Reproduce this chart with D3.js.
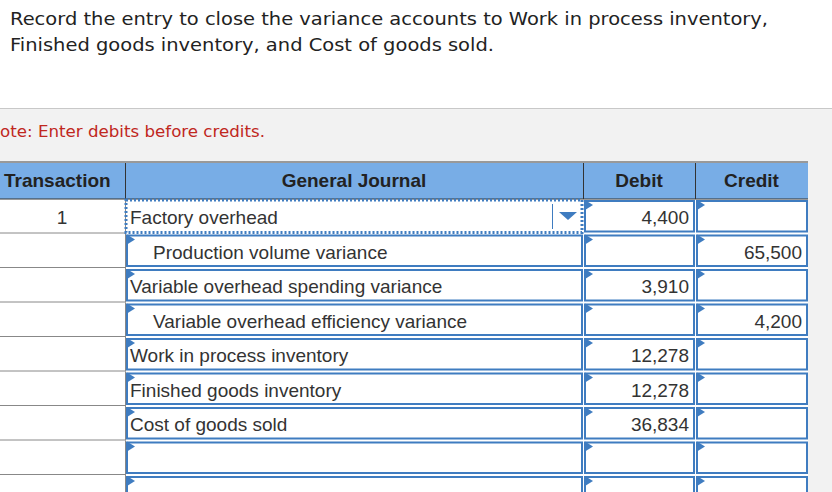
<!DOCTYPE html>
<html>
<head>
<meta charset="utf-8">
<script src="https://cdn.jsdelivr.net/npm/d3@7"></script>
<style>
  body { margin: 0; background: #fff; }
</style>
</head>
<body>
<div id="vis"></div>
<script>
// journal entry data
var accounts = [ "Factory overhead", "Production volume variance", "Variable overhead spending variance",
    "Variable overhead efficiency variance", "Work in process inventory", "Finished goods inventory",
    "Cost of goods sold", "", "" ];
var indented = [ false, true, false, true, false, false, false, false, false ];
var debits  = [ "4,400", "", "3,910", "", "12,278", "12,278", "36,834", "", "" ];
var credits = [ "", "65,500", "", "4,200", "", "", "", "", "" ];
var transactions = [ "1", "", "", "", "", "", "", "", "" ];
var headers = [ "Transaction", "General Journal", "Debit", "Credit" ];

var W = 832, H = 492;
var svg = d3.select( "#vis" ).append( "svg" ).attr( "width", W ).attr( "height", H );

// question text (Verdana-like width, stretched to fit)
svg.append( "text" ).attr( "x", 10 ).attr( "y", 25 ).attr( "textLength", 758 ).attr( "lengthAdjust", "spacingAndGlyphs" )
    .style( "font", "17px 'DejaVu Sans'" ).style( "fill", "#222" )
    .text( "Record the entry to close the variance accounts to Work in process inventory," );
svg.append( "text" ).attr( "x", 10 ).attr( "y", 51 ).attr( "textLength", 484 ).attr( "lengthAdjust", "spacingAndGlyphs" )
    .style( "font", "17px 'DejaVu Sans'" ).style( "fill", "#222" )
    .text( "Finished goods inventory, and Cost of goods sold." );

// gray panel
svg.append( "rect" ).attr( "x", 0 ).attr( "y", 108 ).attr( "width", W ).attr( "height", H - 108 ).style( "fill", "#f2f2f2" );
svg.append( "line" ).attr( "x1", 0 ).attr( "x2", W ).attr( "y1", 108.5 ).attr( "y2", 108.5 ).style( "stroke", "#c8c8c8" );
svg.append( "text" ).attr( "x", 0 ).attr( "y", 137 ).attr( "textLength", 265 ).attr( "lengthAdjust", "spacingAndGlyphs" )
    .style( "font", "15.5px 'DejaVu Sans'" ).style( "fill", "#c0281e" )
    .text( "ote: Enter debits before credits." );

// columns and rows
var colEdges = [ 0, 125, 583, 695, 808 ];
var rowTop = 163, headH = 36, rowH = 34.5;
var y = d3.scaleLinear().domain( [ 0, 1 ] ).range( [ rowTop + headH, rowTop + headH + rowH ] );
var font = "19px 'Liberation Sans'";

svg.append( "rect" ).attr( "x", 0 ).attr( "y", rowTop ).attr( "width", 808 ).attr( "height", H - rowTop ).style( "fill", "#fff" );

// header
svg.append( "rect" ).attr( "x", 0 ).attr( "y", rowTop ).attr( "width", 808 ).attr( "height", headH ).style( "fill", "#78ade6" );
svg.append( "line" ).attr( "x1", 0 ).attr( "x2", 808 ).attr( "y1", rowTop - 1 ).attr( "y2", rowTop - 1 ).style( "stroke", "#999" ).style( "stroke-width", 2 );
svg.append( "line" ).attr( "x1", 0 ).attr( "x2", 808 ).attr( "y1", rowTop + headH ).attr( "y2", rowTop + headH ).style( "stroke", "#333" );
svg.selectAll( "line.hsep" ).data( [ 125, 583, 695 ] ).enter().append( "line" )
    .attr( "x1", function( d ) { return d + 0.5; } ).attr( "x2", function( d ) { return d + 0.5; } )
    .attr( "y1", rowTop ).attr( "y2", rowTop + headH ).style( "stroke", "#333" );
svg.selectAll( "text.head" ).data( headers ).enter().append( "text" )
    .attr( "x", function( d, i ) { return i == 0 ? 4 : ( colEdges[ i ] + colEdges[ i + 1 ] ) / 2; } )
    .attr( "y", rowTop + 24 )
    .style( "text-anchor", function( d, i ) { return i == 0 ? "start" : "middle"; } )
    .style( "font", "bold " + font ).style( "fill", "#222" )
    .text( function( d ) { return d; } );

var rows = svg.selectAll( "g.row" ).data( accounts ).enter().append( "g" )
    .attr( "transform", function( d, i ) { return "translate(0," + y( i ) + ")"; } );

// row separators in transaction column
rows.append( "line" ).attr( "x1", 0 ).attr( "x2", 125 ).attr( "y1", rowH - 0.5 ).attr( "y2", rowH - 0.5 ).style( "stroke", "#888" );
rows.append( "line" ).attr( "x1", 125.5 ).attr( "x2", 125.5 ).attr( "y1", 0 ).attr( "y2", rowH ).style( "stroke", "#888" );
rows.append( "text" ).attr( "x", 62 ).attr( "y", 25 ).style( "text-anchor", "middle" )
    .style( "font", font ).style( "fill", "#333" )
    .text( function( d, i ) { return transactions[ i ]; } );

// input boxes
[ 1, 2, 3 ].forEach( function( c ) {
    var x0 = colEdges[ c ] + 2, w = colEdges[ c + 1 ] - colEdges[ c ] - 3;
    rows.append( "rect" ).attr( "x", x0 ).attr( "y", 2 ).attr( "width", w ).attr( "height", rowH - 4 )
        .style( "fill", "#fff" )
        .style( "stroke", function( d, i ) { return ( c == 1 && i == 0 ) ? "none" : "#3f7cc0"; } )
        .style( "stroke-width", 2 );
    rows.filter( function( d, i ) { return !( c == 1 && i == 0 ); } ).append( "path" )
        .attr( "d", "M" + x0 + ",1 L" + ( x0 + 8 ) + ",6 L" + x0 + ",11 Z" ).style( "fill", "#3f7cc0" );
});

// focused dotted first row
svg.append( "rect" ).attr( "x", 126 ).attr( "y", y( 0 ) + 1 ).attr( "width", 456 ).attr( "height", rowH - 2 )
    .style( "fill", "none" ).style( "stroke", "#3f7cc0" ).style( "stroke-width", 3 ).style( "stroke-dasharray", "2,2" );
svg.append( "line" ).attr( "x1", 552.5 ).attr( "x2", 552.5 ).attr( "y1", y( 0 ) + 5 ).attr( "y2", y( 0 ) + 30 ).style( "stroke", "#3f7cc0" );
svg.append( "path" ).attr( "d", "M559," + ( y( 0 ) + 13 ) + " L577," + ( y( 0 ) + 13 ) + " L568," + ( y( 0 ) + 21 ) + " Z" ).style( "fill", "#3f7cc0" );

rows.append( "text" )
    .attr( "x", function( d, i ) { return indented[ i ] ? 153 : 130; } ).attr( "y", 25 )
    .style( "font", font ).style( "fill", "#333" )
    .text( function( d ) { return d; } );
rows.append( "text" ).attr( "x", 689 ).attr( "y", 25 ).style( "text-anchor", "end" )
    .style( "font", font ).style( "fill", "#333" )
    .text( function( d, i ) { return debits[ i ]; } );
rows.append( "text" ).attr( "x", 802 ).attr( "y", 25 ).style( "text-anchor", "end" )
    .style( "font", font ).style( "fill", "#333" )
    .text( function( d, i ) { return credits[ i ]; } );
</script>
</body>
</html>
